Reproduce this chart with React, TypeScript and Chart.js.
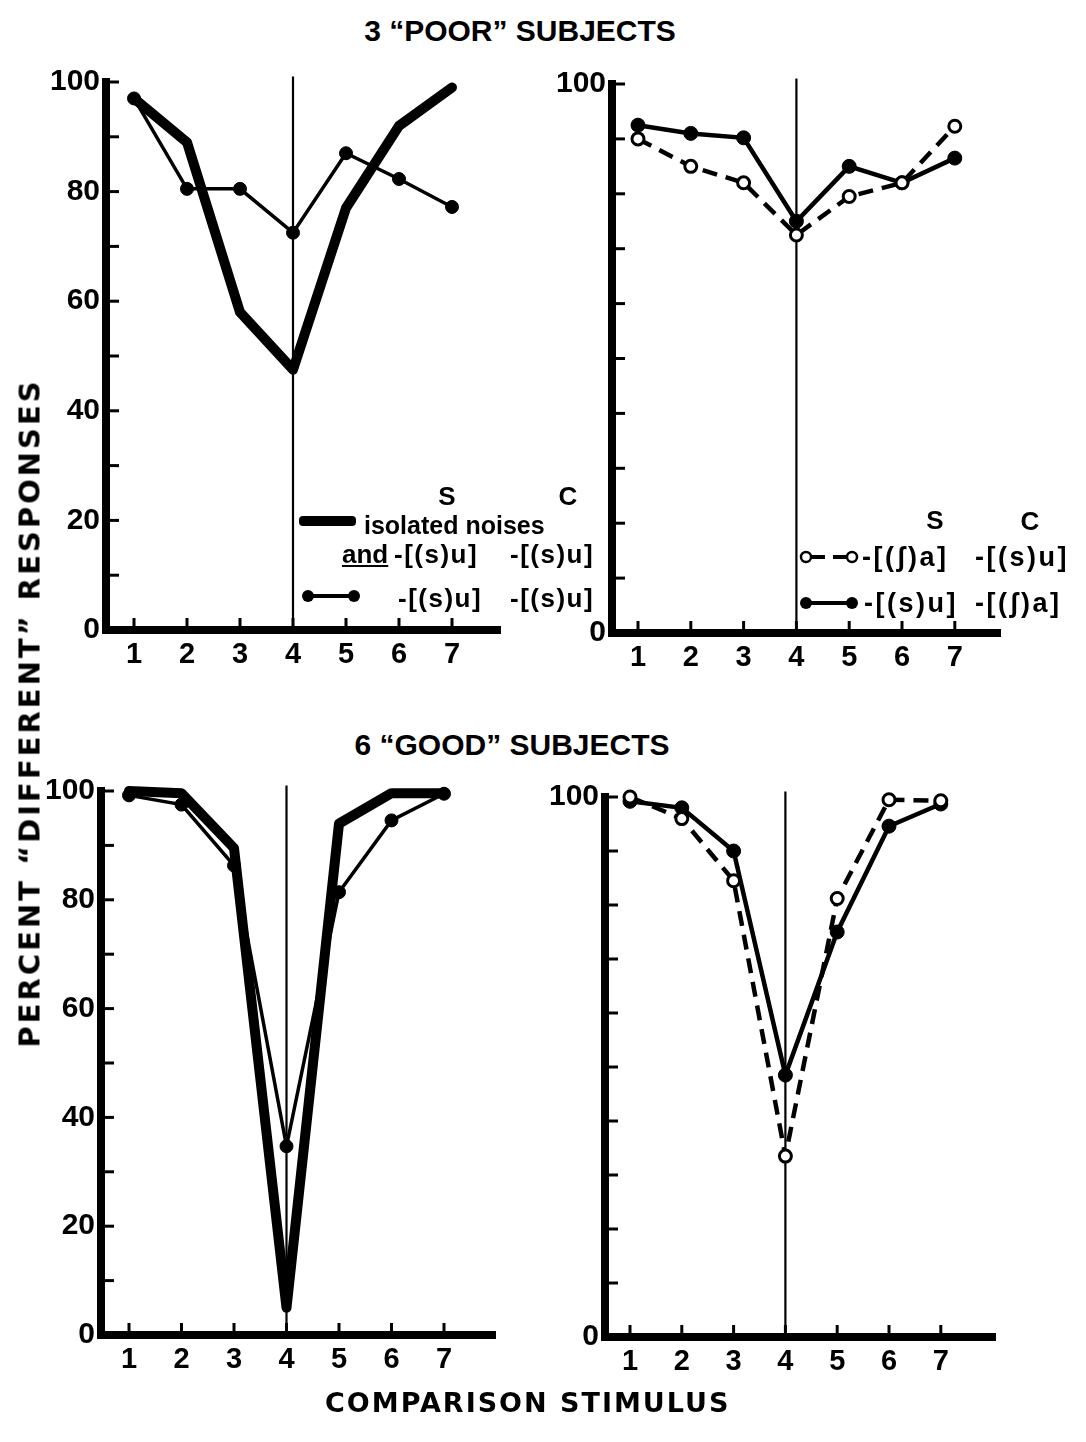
import React, { useEffect, useRef } from 'react';
import { Chart, registerables } from 'chart.js';

Chart.register(...registerables);

// ---------- data ----------
const categories = [1, 2, 3, 4, 5, 6, 7];
const yTickLabelsFull = [0, 20, 40, 60, 80, 100];
const yTickLabelsEnds = [0, 100];
const yMinorTicks = [10, 20, 30, 40, 50, 60, 70, 80, 90, 100];
const boundaryCategory = 4;

// 3 "POOR" subjects, left panel
const poorIsolated = [97, 89, 58, 47.5, 77, 92, 99];
const poorSuSu = [97, 80.5, 80.5, 72.5, 87, 82.3, 77.2];
// 3 "POOR" subjects, right panel
const poorShaSu = [90, 85, 82, 72.5, 79.5, 82, 92.3]; // open, dashed: S -[(ʃ)a], C -[(s)u]
const poorSuSha = [92.5, 91, 90.2, 75, 85, 82, 86.5]; // filled, solid: S -[(s)u], C -[(ʃ)a]
// 6 "GOOD" subjects, left panel
const goodIsolated = [100, 99.6, 89.5, 5, 94, 99.6, 99.6];
const goodSuSu = [99.2, 97.5, 86.3, 34.7, 81.4, 94.6, 99.5];
// 6 "GOOD" subjects, right panel
const goodShaSu = [100, 96, 84.5, 33.5, 81.2, 99.5, 99.3];
const goodSuSha = [99.2, 98, 90, 48.5, 75, 94.6, 98.7];

const FONT = '"Liberation Sans", Arial, Helvetica, sans-serif';
const WIDE = '"DejaVu Sans", "Liberation Sans", sans-serif';

const pts = (vals: number[]) => vals.map((v, i) => ({ x: categories[i], y: v }));

const thickSeries = (vals: number[]) => ({
  data: pts(vals),
  borderColor: '#000',
  borderWidth: 10,
  pointRadius: 0,
  borderJoinStyle: 'round',
  borderCapStyle: 'round',
  tension: 0,
  clip: false,
});
const dotSeries = (vals: number[], w = 3.5, r = 6.5) => ({
  data: pts(vals),
  borderColor: '#000',
  borderWidth: w,
  pointRadius: r,
  pointBackgroundColor: '#000',
  pointBorderColor: '#000',
  pointBorderWidth: 1,
  tension: 0,
  clip: false,
});
const openDashSeries = (vals: number[]) => ({
  data: pts(vals),
  borderColor: '#000',
  borderWidth: 4.5,
  borderDash: [15, 9],
  pointRadius: 6,
  pointBackgroundColor: '#fff',
  pointBorderColor: '#000',
  pointBorderWidth: 3,
  tension: 0,
  clip: false,
});

type Panel = {
  left: number;
  top: number;
  right: number;
  bottom: number;
  cat1: number;
  step: number;
  yLabels: number[];
  datasets: any[];
};

const PAD_L = 80;
const PAD_B = 55;
const PAD_T = 22;
const PAD_R = 16;

const panels: Panel[] = [
  {
    left: 106, top: 80, right: 500, bottom: 630, cat1: 134, step: 53,
    yLabels: yTickLabelsFull,
    datasets: [thickSeries(poorIsolated), dotSeries(poorSuSu)],
  },
  {
    left: 612, top: 82, right: 1000, bottom: 633, cat1: 638, step: 52.8,
    yLabels: yTickLabelsEnds,
    datasets: [openDashSeries(poorShaSu), dotSeries(poorSuSha, 4.5, 7)],
  },
  {
    left: 101, top: 789, right: 495, bottom: 1335, cat1: 129, step: 52.5,
    yLabels: yTickLabelsFull,
    datasets: [thickSeries(goodIsolated), dotSeries(goodSuSu)],
  },
  {
    left: 605, top: 795, right: 995, bottom: 1337, cat1: 630, step: 51.8,
    yLabels: yTickLabelsEnds,
    datasets: [openDashSeries(goodShaSu), dotSeries(goodSuSha, 4.5, 7)],
  },
];

const axisDecor = {
  id: 'axisDecor',
  beforeDatasetsDraw(chart: any) {
    const { ctx, chartArea, scales } = chart;
    const xs = scales.x;
    const ys = scales.y;
    ctx.save();
    ctx.strokeStyle = '#000';
    ctx.lineCap = 'butt';
    ctx.lineWidth = 3;
    yMinorTicks.forEach((v) => {
      const py = ys.getPixelForValue(v);
      ctx.beginPath();
      ctx.moveTo(chartArea.left, py);
      ctx.lineTo(chartArea.left + 13, py);
      ctx.stroke();
    });
    categories.forEach((c) => {
      const px = xs.getPixelForValue(c);
      ctx.beginPath();
      ctx.moveTo(px, chartArea.bottom);
      ctx.lineTo(px, chartArea.bottom - 12);
      ctx.stroke();
    });
    const bx = xs.getPixelForValue(boundaryCategory);
    ctx.lineWidth = 2.2;
    ctx.beginPath();
    ctx.moveTo(bx, chartArea.bottom);
    ctx.lineTo(bx, ys.getPixelForValue(101));
    ctx.stroke();
    ctx.restore();
  },
};

function PanelChart({ p }: { p: Panel }) {
  const ref = useRef<HTMLCanvasElement | null>(null);
  const width = p.right - p.left + PAD_L + PAD_R;
  const height = p.bottom - p.top + PAD_T + PAD_B;
  useEffect(() => {
    if (!ref.current) return;
    const xmin = 1 - (p.cat1 - p.left) / p.step;
    const xmax = 1 + (p.right - p.cat1) / p.step;
    const chart = new Chart(ref.current, {
      type: 'line',
      data: { datasets: p.datasets },
      plugins: [axisDecor],
      options: {
        animation: false,
        responsive: false,
        devicePixelRatio: 1,
        layout: { padding: { top: PAD_T, right: PAD_R, left: 0, bottom: 0 } },
        plugins: { legend: { display: false }, tooltip: { enabled: false } },
        scales: {
          x: {
            type: 'linear',
            min: xmin,
            max: xmax,
            afterBuildTicks: (s: any) => {
              s.ticks = categories.map((c) => ({ value: c }));
            },
            afterFit: (s: any) => {
              s.height = PAD_B;
            },
            grid: { display: false, drawTicks: false },
            border: { display: true, width: 8, color: '#000' },
            ticks: {
              color: '#000',
              padding: 8,
              autoSkip: false,
              maxRotation: 0,
              font: { family: FONT, size: 29, weight: 'bold' },
              callback: (v: any) => String(v),
            },
          },
          y: {
            type: 'linear',
            min: 0,
            max: 100,
            afterBuildTicks: (s: any) => {
              s.ticks = p.yLabels.map((v) => ({ value: v }));
            },
            afterFit: (s: any) => {
              s.width = PAD_L;
            },
            grid: { display: false, drawTicks: false },
            border: { display: true, width: 8, color: '#000' },
            ticks: {
              color: '#000',
              padding: 6,
              font: { family: FONT, size: 30, weight: 'bold' },
              callback: (v: any) => String(v),
            },
          },
        },
      } as any,
    });
    return () => chart.destroy();
  }, [p]);
  return (
    <canvas
      ref={ref}
      width={width}
      height={height}
      style={{
        position: 'absolute',
        left: p.left - PAD_L,
        top: p.top - PAD_T,
        width,
        height,
      }}
    />
  );
}

const txt = (
  content: React.ReactNode,
  x: number,
  y: number,
  size: number,
  extra: React.CSSProperties = {},
  center = false,
) => (
  <div
    style={{
      position: 'absolute',
      left: x,
      top: y,
      transform: center ? 'translate(-50%, -50%)' : 'translate(0, -50%)',
      fontFamily: FONT,
      fontWeight: 'bold',
      fontSize: size,
      lineHeight: 1,
      whiteSpace: 'nowrap',
      color: '#000',
      ...extra,
    }}
  >
    {content}
  </div>
);

const LEG = 26;
const legSp: React.CSSProperties = { letterSpacing: 1.5 };
const legSpR: React.CSSProperties = { letterSpacing: 2.5 };

const FilledSample = ({ x, y }: { x: number; y: number }) => (
  <svg style={{ position: 'absolute', left: x, top: y - 8 }} width={60} height={16}>
    <line x1={7} y1={8} x2={53} y2={8} stroke="#000" strokeWidth={4} />
    <circle cx={7} cy={8} r={6} fill="#000" />
    <circle cx={53} cy={8} r={6} fill="#000" />
  </svg>
);
const OpenSample = ({ x, y }: { x: number; y: number }) => (
  <svg style={{ position: 'absolute', left: x, top: y - 8 }} width={60} height={16}>
    <line x1={12} y1={8} x2={48} y2={8} stroke="#000" strokeWidth={4} strokeDasharray="14 8" />
    <circle cx={7} cy={8} r={5} fill="#fff" stroke="#000" strokeWidth={2.5} />
    <circle cx={53} cy={8} r={5} fill="#fff" stroke="#000" strokeWidth={2.5} />
  </svg>
);

export default function App() {
  return (
    <div
      style={{
        position: 'fixed',
        left: 0,
        top: 0,
        width: 1086,
        height: 1442,
        background: '#fff',
        overflow: 'hidden',
      }}
    >
      {panels.map((p, i) => (
        <PanelChart key={i} p={p} />
      ))}

      {/* titles */}
      {txt('3 \u201CPOOR\u201D SUBJECTS', 520, 31, 30, {}, true)}
      {txt('6 \u201CGOOD\u201D SUBJECTS', 512, 745, 30, {}, true)}
      <div
        style={{
          position: 'absolute',
          left: 30,
          top: 713,
          transform: 'translate(-50%, -50%) rotate(-90deg)',
          fontFamily: WIDE,
          fontWeight: 'bold',
          fontSize: 29,
          letterSpacing: 3,
          lineHeight: 1,
          whiteSpace: 'nowrap',
          color: '#000',
        }}
      >
        PERCENT {'\u201C'}DIFFERENT{'\u201D'} RESPONSES
      </div>
      {txt('COMPARISON STIMULUS', 325, 1402, 27, { fontFamily: WIDE, letterSpacing: 2 })}

      {/* top-left legend */}
      {txt('S', 447, 496, LEG, {}, true)}
      {txt('C', 568, 496, LEG, {}, true)}
      <div
        style={{
          position: 'absolute',
          left: 299,
          top: 516,
          width: 57,
          height: 10,
          background: '#000',
          borderRadius: 4,
        }}
      />
      {txt('isolated noises', 364, 525, 25)}
      {txt('and', 342, 554, LEG, { textDecoration: 'underline' })}
      {txt('-[(s)u]', 394, 554, LEG, legSp)}
      {txt('-[(s)u]', 510, 554, LEG, legSp)}
      <FilledSample x={301} y={596} />
      {txt('-[(s)u]', 398, 598, LEG, legSp)}
      {txt('-[(s)u]', 510, 598, LEG, legSp)}

      {/* top-right legend */}
      {txt('S', 935, 520, LEG, {}, true)}
      {txt('C', 1030, 521, LEG, {}, true)}
      <OpenSample x={799} y={557} />
      {txt('-[(\u0283)a]', 862, 557, 27, legSpR)}
      {txt('-[(s)u]', 975, 557, 27, legSpR)}
      <FilledSample x={799} y={603} />
      {txt('-[(s)u]', 864, 603, 27, legSpR)}
      {txt('-[(\u0283)a]', 975, 603, 27, legSpR)}
    </div>
  );
}
